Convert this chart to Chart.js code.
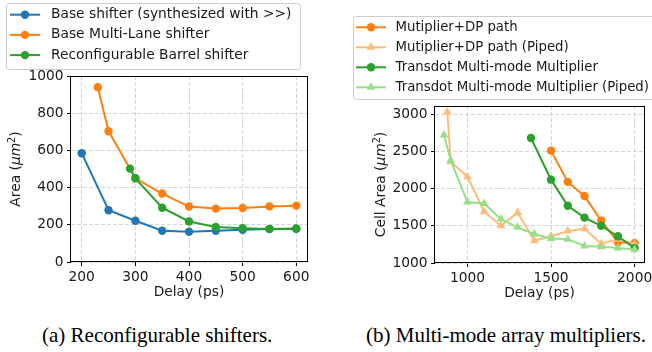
<!DOCTYPE html>
<html>
<head>
<meta charset="utf-8">
<script src="https://cdn.jsdelivr.net/npm/chart.js@4.4.0/dist/chart.umd.min.js"></script>
<style>
html, body { margin: 0; padding: 0; background: #fff; overflow: hidden; width: 652px; height: 352px; }
#wrap { position: relative; width: 652px; height: 352px; overflow: hidden; }
canvas { position: absolute; top: 0; }
#shifters { left: 0; }
#multipliers { left: 326px; }
.cap { position: absolute; top: 325px; font-family: "Liberation Serif", "DejaVu Serif", serif; font-size: 21px; line-height: 21px; white-space: nowrap; color: #000; }
</style>
</head>
<body>
<div id="wrap">
  <canvas id="shifters" width="326" height="301"></canvas>
  <canvas id="multipliers" width="340" height="302"></canvas>
  <div class="cap" style="left:42px">(a) Reconfigurable shifters.</div>
  <div class="cap" style="left:366px">(b) Multi-mode array multipliers.</div>
</div>
<script>
// (a) shifters: delay (ps) / area (um^2)
var baseShifterDelay = [200, 250, 300, 350, 400, 450, 500, 550, 600];
var baseShifterArea = [585, 278, 222, 168, 163, 168, 173, 177, 178];
var multiLaneDelay = [230, 250, 300, 350, 400, 450, 500, 550, 600];
var multiLaneArea = [940, 703, 450, 368, 298, 287, 290, 299, 303];
var barrelDelay = [290, 300, 350, 400, 450, 500, 550, 600];
var barrelArea = [502, 450, 292, 218, 188, 182, 178, 180];

// (b) multipliers: delay (ps) / cell area (um^2)
var dpPathDelay = [1500, 1600, 1700, 1800, 1900, 2000];
var dpPathArea = [2510, 2090, 1900, 1570, 1280, 1270];
var dpPipedDelay = [880, 900, 1000, 1100, 1200, 1300, 1400, 1500, 1600, 1700, 1800, 1900, 2000];
var dpPipedArea = [3030, 2360, 2160, 1690, 1500, 1680, 1300, 1360, 1430, 1460, 1260, 1320, 1260];
var transdotDelay = [1380, 1500, 1600, 1700, 1800, 1900, 2000];
var transdotArea = [2680, 2120, 1770, 1610, 1500, 1360, 1200];
var transPipedDelay = [860, 900, 1000, 1100, 1200, 1300, 1400, 1500, 1600, 1700, 1800, 1900, 2000];
var transPipedArea = [2720, 2380, 1820, 1800, 1590, 1480, 1390, 1330, 1320, 1230, 1220, 1200, 1180];

var shifterTicksX = [200, 300, 400, 500, 600];
var shifterTicksY = [0, 200, 400, 600, 800, 1000];
var multTicksX = [1000, 1500, 2000];
var multTicksY = [1000, 1500, 2000, 2500, 3000];

var FONT = { family: 'DejaVu Sans', size: 13.8 };
var TXT = '#1a1a1a';

function pts(xs, ys) {
    return xs.map(function (x, i) { return { x: x, y: ys[i] }; });
}

function series(label, xs, ys, color, style, n, i) {
    return {
        label: label,
        data: pts(xs, ys),
        borderColor: color,
        backgroundColor: color,
        pointBackgroundColor: color,
        pointBorderWidth: 0,
        pointStyle: style,
        pointRadius: style === 'triangle' ? 5 : 4.2,
        pointHoverRadius: style === 'triangle' ? 5 : 4.2,
        borderWidth: 2,
        tension: 0,
        fill: false,
        clip: false,
        order: n - i // later series on top, like matplotlib
    };
}

// legend box drawn in matplotlib style
var boxLegend = {
    id: 'boxLegend',
    afterDraw: function (chart, args, o) {
        var ctx = chart.ctx;
        ctx.save();
        ctx.beginPath();
        ctx.roundRect(o.x + 0.5, o.y + 0.5, o.w, o.h, 3);
        ctx.fillStyle = 'rgba(255,255,255,0.8)';
        ctx.fill();
        ctx.strokeStyle = '#cccccc';
        ctx.lineWidth = 1;
        ctx.stroke();
        chart.data.datasets.forEach(function (ds, i) {
            var y = o.rowY + i * o.rowStep;
            ctx.strokeStyle = ds.borderColor;
            ctx.lineWidth = 2;
            ctx.beginPath();
            ctx.moveTo(o.lineX, y);
            ctx.lineTo(o.lineX + 30, y);
            ctx.stroke();
            ctx.fillStyle = ds.borderColor;
            Chart.helpers.drawPoint(ctx, { pointStyle: ds.pointStyle, radius: ds.pointRadius, borderWidth: 0, rotation: 0 }, o.lineX + 15, y);
            ctx.fillStyle = TXT;
            ctx.font = (o.size || FONT.size) + 'px "' + FONT.family + '"';
            ctx.textBaseline = 'middle';
            ctx.textAlign = 'left';
            ctx.fillText(ds.label, o.textX, y);
        });
        ctx.restore();
    }
};

// frame around the plot + y title with italic unit and superscript
var frameAndTitle = {
    id: 'frameAndTitle',
    afterDatasetsDraw: function (chart) {
        var a = chart.chartArea, ctx = chart.ctx;
        ctx.save();
        ctx.strokeStyle = '#000';
        ctx.lineWidth = 1;
        ctx.strokeRect(Math.round(a.left) - 0.5, Math.round(a.top) + 0.5, Math.round(a.right - a.left) + 1, Math.round(a.bottom - a.top) - 1);
        ctx.restore();
    },
    afterDraw: function (chart, args, o) {
        var ctx = chart.ctx, a = chart.chartArea;
        var s = FONT.size;
        var parts = [
            [o.prefix + '(', 'normal', s, 0],
            ['\u03bcm', 'italic', s, 0],
            ['2', 'normal', s * 0.7, -s * 0.38],
            [')', 'normal', s, 0]
        ];
        ctx.save();
        var total = 0;
        parts.forEach(function (p) {
            ctx.font = p[1] + ' ' + p[2] + 'px "' + FONT.family + '"';
            p.push(ctx.measureText(p[0]).width);
            total += p[4];
        });
        ctx.translate(o.x, (a.top + a.bottom) / 2);
        ctx.rotate(-Math.PI / 2);
        ctx.fillStyle = TXT;
        ctx.textBaseline = 'alphabetic';
        var cx = -total / 2;
        parts.forEach(function (p) {
            ctx.font = p[1] + ' ' + p[2] + 'px "' + FONT.family + '"';
            ctx.fillText(p[0], cx, s * 0.36 + p[3]);
            cx += p[4];
        });
        ctx.restore();
    }
};

function makeAxes(xr, yr, xTicks, yTicks, yWidth, xHeight) {
    function common(tickVals, fitFn) {
        return {
            type: 'linear',
            ticks: {
                font: FONT, color: TXT, padding: 3.5, maxRotation: 0, autoSkip: false,
                callback: function (v) { return String(v); }
            },
            afterBuildTicks: function (sc) {
                sc.ticks = tickVals.map(function (v) { return { value: v }; });
            },
            grid: { color: '#d6d6d6', lineWidth: 1, tickLength: 4, tickColor: '#000', tickWidth: 1, tickBorderDash: [] },
            border: { display: false, dash: [4, 2] },
            afterFit: fitFn
        };
    }
    var x = common(xTicks, function (sc) { sc.height = xHeight; sc.paddingLeft = 0; sc.paddingRight = 0; });
    x.min = xr[0]; x.max = xr[1];
    x.title = { display: true, text: 'Delay (ps)', font: FONT, color: TXT, padding: { top: 0, bottom: 0 } };
    var y = common(yTicks, function (sc) { sc.width = yWidth; sc.paddingTop = 0; sc.paddingBottom = 0; });
    y.min = yr[0]; y.max = yr[1];
    return { x: x, y: y };
}

var baseOpts = {
    responsive: false,
    animation: false,
    events: [],
    plugins: { legend: { display: false }, tooltip: { enabled: false } }
};

new Chart(document.getElementById('shifters'), {
    type: 'line',
    data: {
        datasets: [
            series('Base shifter (synthesized with >>)', baseShifterDelay, baseShifterArea, '#1f77b4', 'circle', 3, 0),
            series('Base Multi-Lane shifter', multiLaneDelay, multiLaneArea, '#ff7f0e', 'circle', 3, 1),
            series('Reconfigurable Barrel shifter', barrelDelay, barrelArea, '#2ca02c', 'circle', 3, 2)
        ]
    },
    options: Object.assign({}, baseOpts, {
        layout: { padding: { left: 0, right: 19, top: 76, bottom: 0 } },
        scales: makeAxes([180, 620], [0, 1000], shifterTicksX, shifterTicksY, 71, 39),
        plugins: Object.assign({}, baseOpts.plugins, {
            boxLegend: { x: 6, y: 3, w: 294, h: 66, rowY: 14.7, rowStep: 20.2, lineX: 10, textX: 51 },
            frameAndTitle: { x: 15, prefix: 'Area ' }
        })
    }),
    plugins: [boxLegend, frameAndTitle]
});

new Chart(document.getElementById('multipliers'), {
    type: 'line',
    data: {
        datasets: [
            series('Mutiplier+DP path', dpPathDelay, dpPathArea, '#ff7f0e', 'circle', 4, 0),
            series('Mutiplier+DP path (Piped)', dpPipedDelay, dpPipedArea, '#ffbb78', 'triangle', 4, 1),
            series('Transdot Multi-mode Multiplier', transdotDelay, transdotArea, '#2ca02c', 'circle', 4, 2),
            series('Transdot Multi-mode Multiplier (Piped)', transPipedDelay, transPipedArea, '#98df8a', 'triangle', 4, 3)
        ]
    },
    options: Object.assign({}, baseOpts, {
        layout: { padding: { left: 0, right: 22, top: 106, bottom: 0 } },
        scales: makeAxes([806, 2056], [1000, 3110], multTicksX, multTicksY, 109, 39),
        plugins: Object.assign({}, baseOpts.plugins, {
            boxLegend: { x: 27, y: 16, w: 340, h: 83, rowY: 27.3, rowStep: 20, lineX: 30, textX: 69.5, size: 13.3 },
            frameAndTitle: { x: 54, prefix: 'Cell Area ' }
        })
    }),
    plugins: [boxLegend, frameAndTitle]
});
</script>
</body>
</html>
